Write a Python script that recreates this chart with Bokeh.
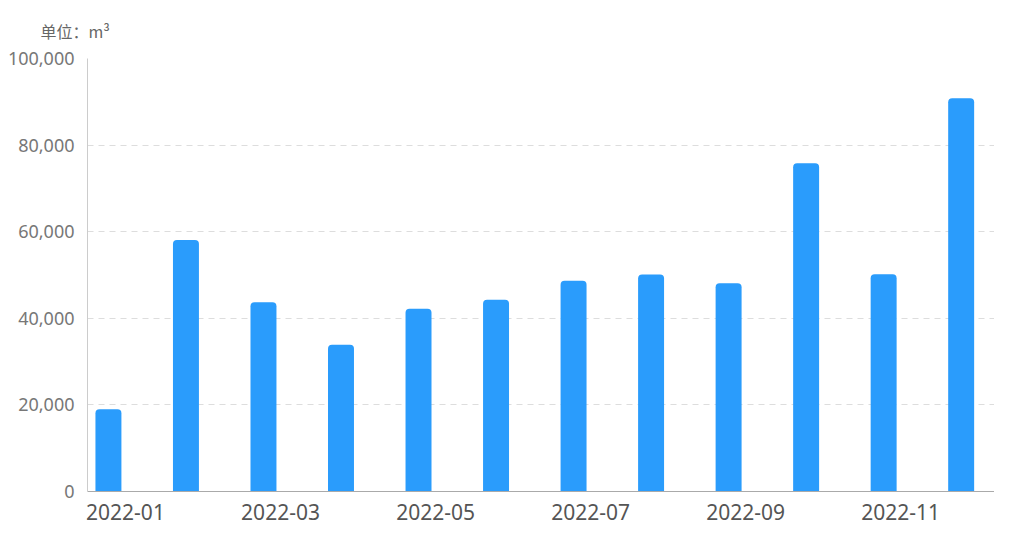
from bokeh.plotting import figure
from bokeh.models import ColumnDataSource, FixedTicker, NumeralTickFormatter, Range1d
from bokeh.embed import file_html
from bokeh.resources import INLINE

months = ["2022-01", "2022-02", "2022-03", "2022-04", "2022-05", "2022-06",
          "2022-07", "2022-08", "2022-09", "2022-10", "2022-11", "2022-12"]
values = [19000, 58100, 43700, 33900, 42200, 44300, 48700, 50100, 48100, 75800, 50200, 90800]
y_ticks = [0, 20000, 40000, 60000, 80000, 100000]
unit_label = "单位：m³"

idx = list(range(len(months)))
src = ColumnDataSource(dict(x=idx, top=values, month=months))

p = figure(width=994, height=527, output_backend="svg", toolbar_location=None,
           x_range=Range1d(-0.27, 11.43), y_range=Range1d(0, 100000),
           min_border_left=87, min_border_right=0, min_border_top=58,
           min_border_bottom=36)

p.vbar(x="x", top="top", width=0.335, source=src, color="#2a9cfc",
       line_color=None, border_radius=(4, 4, 0, 0))

p.outline_line_color = None
p.title.text = unit_label
p.title.align = "left"
p.title.offset = -47
p.title.text_font = "Noto Sans CJK SC"
p.title.text_font_size = "16px"
p.title.text_font_style = "normal"
p.title.text_color = "#666666"
p.title.standoff = 31

# x axis
label_shift = 0.22
xt = [i + label_shift for i in idx[::2]]
p.xaxis.ticker = FixedTicker(ticks=xt)
p.xaxis.major_label_overrides = {i + label_shift: months[i] for i in idx[::2]}
p.xaxis.major_tick_line_color = None
p.xaxis.minor_tick_line_color = None
p.xaxis.axis_line_color = "#aaaaaa"
p.xaxis.major_label_text_font = "Noto Sans"
p.xaxis.major_label_text_font_size = "21px"
p.xaxis.major_label_text_color = "#555555"
p.xaxis.major_label_standoff = 6

# y axis
p.yaxis.ticker = FixedTicker(ticks=y_ticks)
p.yaxis.formatter = NumeralTickFormatter(format="0,0")
p.yaxis.major_tick_line_color = None
p.yaxis.minor_tick_line_color = None
p.yaxis.axis_line_color = "#cccccc"
p.yaxis.major_label_text_font = "Noto Sans"
p.yaxis.major_label_text_font_size = "18px"
p.yaxis.major_label_text_color = "#777777"
p.yaxis.major_label_standoff = 7

p.xgrid.grid_line_color = None
p.ygrid.grid_line_color = "#dddddd"
p.ygrid.grid_line_dash = "6 5"

open("out.html", "w").write(file_html(p, INLINE))
